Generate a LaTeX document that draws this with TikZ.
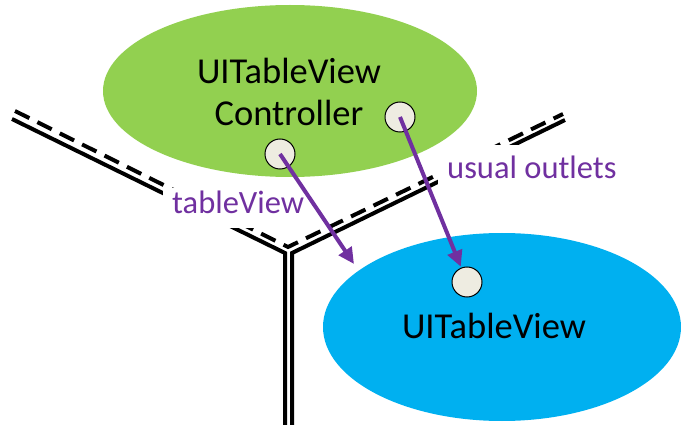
\documentclass[tikz,border=0pt]{standalone}
\usepackage{fontspec}
\setmainfont{Carlito}
\usetikzlibrary{shapes.geometric,arrows.meta}
\definecolor{ctrlgreen}{HTML}{92D050}
\definecolor{viewblue}{HTML}{00B0F0}
\definecolor{outletpurple}{HTML}{7030A0}
\definecolor{dotfill}{HTML}{EEECE1}
\tikzset{
  wall/.style={line width=4pt, black, line join=miter},
  wallhint/.style={wall, dash pattern=on 16pt off 9pt},
  blob/.style={ellipse, inner sep=0pt, draw=none},
  bigtext/.style={font=\fontsize{36.5}{42}\selectfont, text=black, inner sep=0pt},
  outletdot/.style={circle, minimum size=30pt, inner sep=0pt, fill=dotfill, draw=black, line width=1pt},
  outletlabel/.style={font=\fontsize{32.5}{40}\selectfont, text=outletpurple, fill=white, inner xsep=9pt, inner ysep=0pt},
  outletarrow/.style={outletpurple, line width=4pt, -{Triangle[length=16pt,width=15pt]}}
}
\begin{document}
\begin{tikzpicture}[x=1pt, y=-1pt]
  \useasboundingbox (0,0) rectangle (681,425);

  % corner of the walls
  \draw[wallhint] (15,111) -- (288,247) -- (563,114);
  \draw[wall] (12,119) -- (285,253) -- (285,428);
  \draw[wall] (565,120) -- (292,253) -- (292,428);

  % connection labels (white backing interrupts the walls)
  \node[outletlabel, anchor=base west, text height=26pt, text depth=14pt] (tvlabel) at (163,214) {tableView};
  \node[outletlabel, anchor=base west, text height=34pt, text depth=8pt] (oulabel) at (438,179) {usual outlets};

  % controller and view
  \node[blob, fill=ctrlgreen, minimum width=374pt, minimum height=172pt] (ctrl) at (290,91) {};
  \node[blob, fill=viewblue, minimum width=358pt, minimum height=188pt] (view) at (502,327) {};

  \node[bigtext, anchor=base] (ctrlname1) at (289,84) {UITableView};
  \node[bigtext, anchor=base] (ctrlname2) at (289,126) {Controller};
  \node[bigtext, anchor=base] (viewname) at (494,338) {UITableView};

  % outlet dots
  \node[outletdot] (tvdot) at (280,154) {};
  \node[outletdot] (oudot) at (400,117) {};
  \node[outletdot] (viewdot) at (467,282) {};

  % outlet connections
  \coordinate (tvtip) at (354,264);
  \draw[outletarrow] (tvdot.center) -- (tvtip);
  \draw[outletarrow, shorten >=1pt] (oudot.center) -- (viewdot);
\end{tikzpicture}
\end{document}
